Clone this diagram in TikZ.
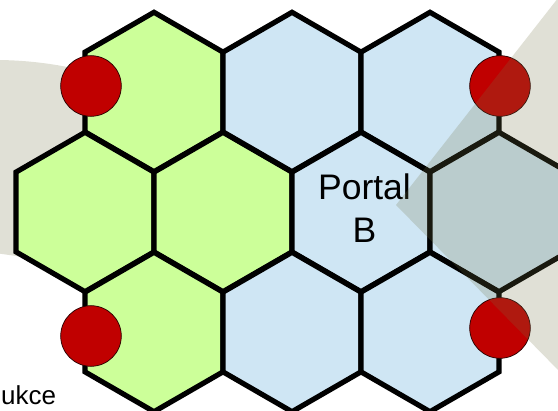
\documentclass[tikz,border=0pt]{standalone}
\usepackage{fontspec}
\setmainfont{Liberation Sans}
\usetikzlibrary{shapes.geometric}
\definecolor{hexgreen}{RGB}{204,255,153}
\definecolor{hexblue}{RGB}{207,230,244}
\definecolor{bggray}{RGB}{224,224,214}
\definecolor{shadegray}{RGB}{116,116,71}
\definecolor{portred}{RGB}{192,0,0}
\tikzset{
  hexcell/.style={regular polygon, regular polygon sides=6, shape border rotate=30,
    minimum size=159.4pt, inner sep=0pt, draw=black, line width=5.2pt},
  greenhex/.style={hexcell, fill=hexgreen},
  bluehex/.style={hexcell, fill=hexblue},
  reddot/.style={circle, minimum size=60.6pt, inner sep=0pt, fill=portred, draw=black!85!red, line width=0.7pt},
  bigtext/.style={font=\fontsize{35.5pt}{43pt}\selectfont, inner sep=0pt},
  smalltext/.style={font=\fontsize{26pt}{31pt}\selectfont, inner sep=0pt}
}
\begin{document}
\begin{tikzpicture}[x=1pt,y=-1pt]
\useasboundingbox (0,0) rectangle (558,411);
\clip (0,0) rectangle (558,411);
% left background shape
\fill[bggray] (-5,60) .. controls (30,60) and (70,65) .. (110,78) -- (110,275) -- (16,256) -- (-5,253) -- cycle;
% green hexes
\node[greenhex] (g1) at (154,92) {};
\node[greenhex] (g2) at (85,212) {};
\node[greenhex] (g3) at (223,212) {};
\node[greenhex] (g4) at (154,332) {};
% blue hexes
\node[bluehex] (b1) at (292,92) {};
\node[bluehex] (b2) at (430,92) {};
\node[bluehex] (portal) at (361,212) {};
\node[bluehex] (b3) at (499,212) {};
\node[bluehex] (b4) at (292,332) {};
\node[bluehex] (b5) at (430,332) {};
% labels
\node[bigtext, anchor=base] (portaltxt) at (364.5,200) {Portal};
\node[bigtext, anchor=base] (portalb) at (364.5,243) {B};
\node[smalltext, anchor=base west] (ukce) at (1,405) {ukce};
% red dots
\node[reddot] (d1) at (91,86) {};
\node[reddot] (d2) at (500,86) {};
\node[reddot] (d3) at (91,336) {};
\node[reddot] (d4) at (500,328) {};
% right translucent wedge
\fill[shadegray, fill opacity=0.224] (396,205) -- (562,-7) -- (562,374) -- cycle;
\end{tikzpicture}
\end{document}
